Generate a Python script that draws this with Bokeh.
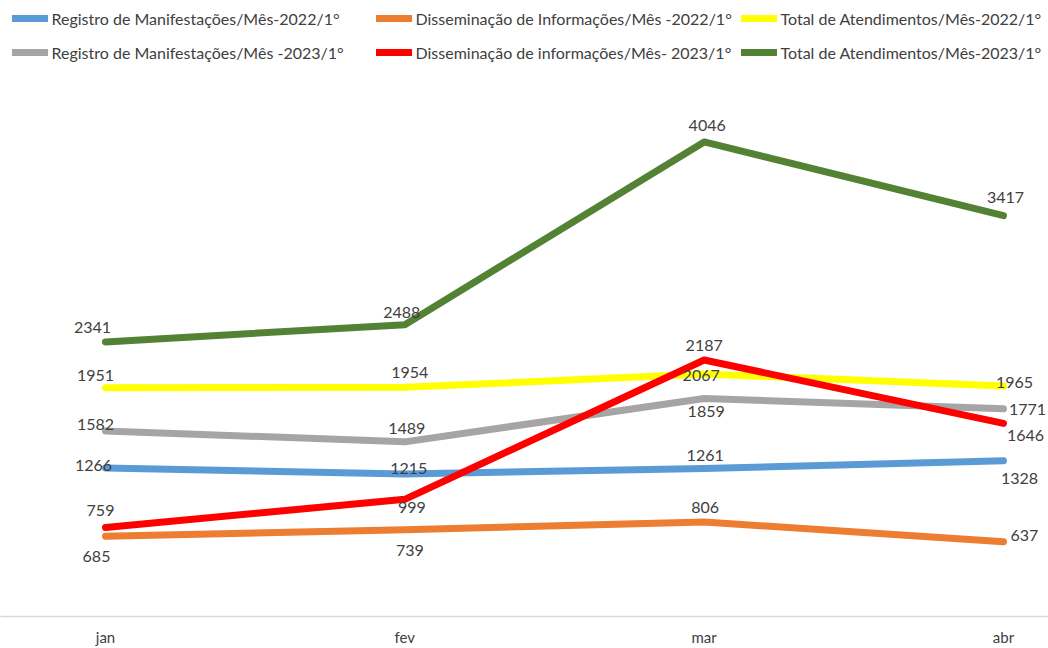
from bokeh.plotting import figure
from bokeh.models import ColumnDataSource, Legend, LegendItem, FixedTicker
from bokeh.core.properties import value
from bokeh.embed import file_html
from bokeh.resources import INLINE

# ---- data ----
months = ["jan", "fev", "mar", "abr"]
reg_2022 = [1266, 1215, 1261, 1328]
dis_2022 = [685, 739, 806, 637]
tot_2022 = [1951, 1954, 2067, 1965]
reg_2023 = [1582, 1489, 1859, 1771]
dis_2023 = [759, 999, 2187, 1646]
tot_2023 = [2341, 2488, 4046, 3417]

names = [
    "Registro de Manifestações/Mês-2022/1°",
    "Disseminação de Informações/Mês -2022/1°",
    "Total de Atendimentos/Mês-2022/1°",
    "Registro de Manifestações/Mês -2023/1°",
    "Disseminação de informações/Mês- 2023/1°",
    "Total de Atendimentos/Mês-2023/1°",
]
series = [reg_2022, dis_2022, tot_2022, reg_2023, dis_2023, tot_2023]
colors = ["#5B9BD5", "#ED7D31", "#FFFF00", "#A5A5A5", "#FF0000", "#548235"]

# label offsets in screen pixels (dx, dy) per series per month
label_dx = [
    [-12, 4, 1, 16],
    [-9, 5, 1, 21],
    [-10, 5, -3, 11],
    [-10, 2, 2, 24],
    [-5, 7, 0, 22],
    [-13, -3, 3, 2],
]
label_dy = [
    [-2, -5, -13, 18],
    [20, 21, -14, -6],
    [-12, -15, 1, -4],
    [-6, -13, 13, 1],
    [-17, 8, -14, 12],
    [-14, -12, -16, -18],
]

W, H = 1048, 648
BOTTOM = 32
frame_h = H - BOTTOM
x_idx = list(range(len(months)))

p = figure(
    width=W, height=H, output_backend="svg", toolbar_location=None,
    x_range=(-0.3508, 3.1504), y_range=(0, frame_h / 0.1173),
    min_border_left=0, min_border_right=0, min_border_top=0,
    min_border_bottom=BOTTOM, y_axis_location=None,
)
p.outline_line_color = None
p.xgrid.visible = False
p.ygrid.visible = False

renderers = []
for vals, c in zip(series, colors):
    r = p.line(x_idx, vals, line_color=c, line_width=7, line_cap="round", line_join="round")
    renderers.append(r)

for vals, dx, dy in zip(series, label_dx, label_dy):
    src = ColumnDataSource(dict(x=x_idx, y=vals, t=[str(v) for v in vals], dx=dx, dy=dy))
    p.text(x="x", y="y", text="t", x_offset="dx", y_offset="dy", source=src,
           text_align="center", text_baseline="middle",
           text_font=value("Lato"), text_font_size="16px", text_color="#404040")

ax = p.xaxis[0]
ax.ticker = FixedTicker(ticks=x_idx)
ax.major_label_overrides = {i: m for i, m in zip(x_idx, months)}
ax.axis_line_color = "#D9D9D9"
ax.axis_line_width = 1.5
ax.major_tick_line_color = None
ax.minor_tick_line_color = None
ax.major_tick_out = 0
ax.major_tick_in = 0
ax.minor_tick_out = 0
ax.axis_label_standoff = 0
ax.major_label_standoff = 11
ax.major_label_text_font = "Lato"
ax.major_label_text_font_size = "15px"
ax.major_label_text_color = "#404040"

leg_h = 20 + 14 + 20
col_x = [11.5, 375.5, 740.5]
for col in range(3):
    items = [LegendItem(label=names[col], renderers=[renderers[col]]),
             LegendItem(label=names[col + 3], renderers=[renderers[col + 3]])]
    leg = Legend(items=items, location=(col_x[col], frame_h - 8 - leg_h),
                 orientation="vertical", padding=0, margin=0, spacing=14,
                 glyph_width=36, glyph_height=20, label_height=20,
                 label_standoff=4, border_line_color=None,
                 background_fill_alpha=0,
                 label_text_font="Lato", label_text_font_size="16px",
                 label_text_color="#404040")
    p.add_layout(leg, "center")

open("out.html", "w").write(file_html(p, INLINE))
